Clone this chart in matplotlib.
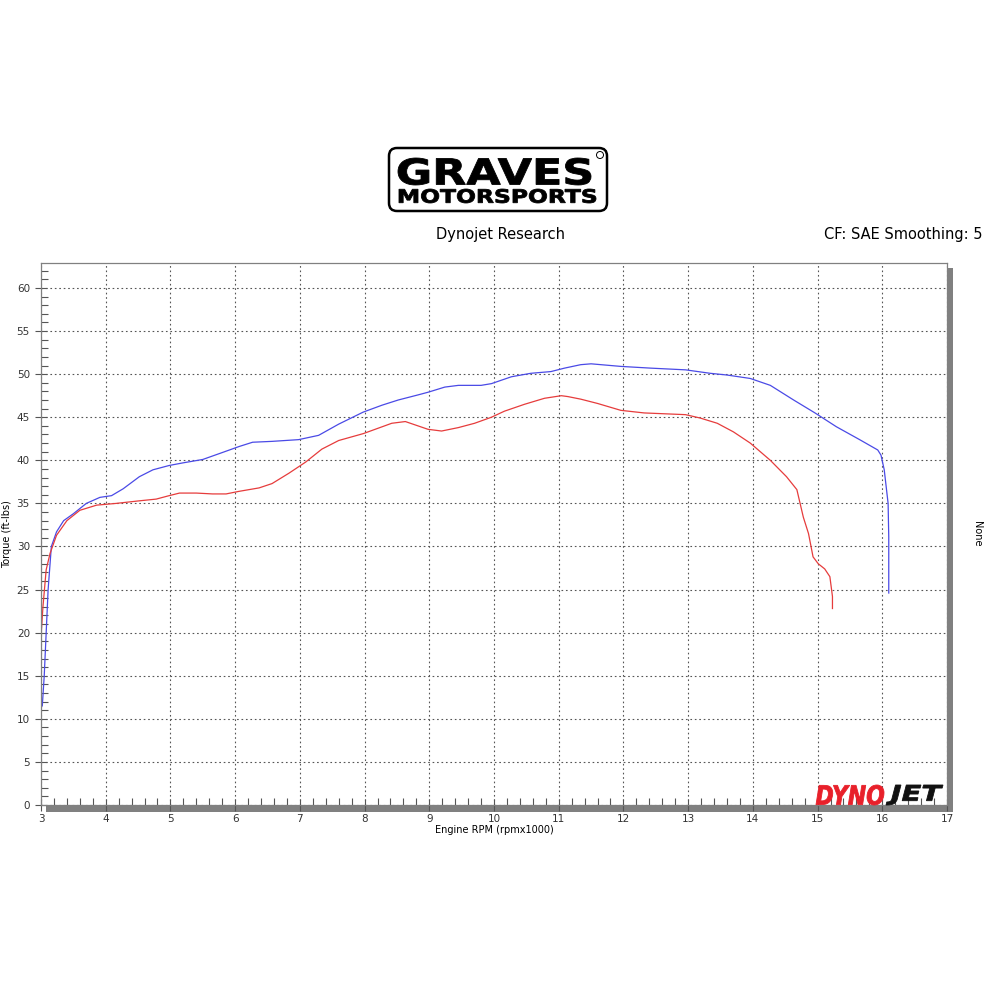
import matplotlib
matplotlib.use("Agg")
import matplotlib.pyplot as plt
from matplotlib.patches import FancyBboxPatch, Rectangle, PathPatch, Circle
from matplotlib.textpath import TextPath
from matplotlib.font_manager import FontProperties
from matplotlib.transforms import Affine2D
from matplotlib.ticker import MultipleLocator

# run 1 (blue) and run 2 (red), torque vs rpm x1000
blue_rpm = [3.02, 3.05, 3.08, 3.11, 3.16, 3.24, 3.35, 3.50, 3.70, 3.91,
            4.09, 4.27, 4.52, 4.73, 4.98, 5.19, 5.50, 5.80, 6.06, 6.27,
            6.57, 6.98, 7.29, 7.60, 7.98, 8.27, 8.52, 8.83, 8.98, 9.24,
            9.45, 9.80, 9.96, 10.27, 10.57, 10.88, 11.09, 11.34, 11.50, 11.96,
            12.42, 12.96, 13.34, 13.60, 13.96, 14.27, 14.63, 14.96, 15.29, 15.65,
            15.93, 15.98, 16.03, 16.09, 16.10, 16.10]
blue_tq = [11.5, 15, 20, 25, 30, 31.7, 33.0, 33.8, 35.0, 35.7,
           35.9, 36.7, 38.1, 38.9, 39.4, 39.7, 40.1, 40.9, 41.6, 42.1,
           42.2, 42.4, 42.9, 44.2, 45.6, 46.4, 47.0, 47.6, 47.9, 48.5,
           48.7, 48.7, 48.9, 49.7, 50.1, 50.3, 50.7, 51.1, 51.2, 50.9,
           50.7, 50.5, 50.1, 49.9, 49.5, 48.7, 47.0, 45.5, 43.9, 42.4,
           41.2, 40.6, 38.9, 35.0, 31.1, 24.6]

red_rpm = [3.00, 3.03, 3.08, 3.14, 3.24, 3.40, 3.60, 3.86, 4.16, 4.52,
           4.78, 4.98, 5.14, 5.40, 5.65, 5.86, 6.06, 6.37, 6.57, 6.83,
           7.09, 7.34, 7.60, 7.98, 8.42, 8.63, 8.98, 9.19, 9.45, 9.70,
           9.96, 10.16, 10.47, 10.78, 11.04, 11.14, 11.34, 11.60, 11.96, 12.32,
           12.96, 13.19, 13.45, 13.70, 13.96, 14.27, 14.52, 14.68, 14.78, 14.86,
           14.93, 15.01, 15.11, 15.19, 15.23, 15.23]
red_tq = [19.5, 23, 27.3, 29.2, 31.3, 33.0, 34.2, 34.8, 35.0, 35.3,
          35.5, 35.9, 36.2, 36.2, 36.1, 36.1, 36.4, 36.8, 37.3, 38.5,
          39.8, 41.3, 42.3, 43.1, 44.3, 44.5, 43.6, 43.4, 43.8, 44.3,
          45.0, 45.7, 46.5, 47.2, 47.5, 47.4, 47.1, 46.6, 45.8, 45.5,
          45.3, 44.9, 44.3, 43.3, 42.0, 40.0, 38.1, 36.6, 33.4, 31.5,
          28.8, 28.0, 27.4, 26.5, 24.2, 22.8]

x_ticks = list(range(3, 18))
y_ticks = list(range(0, 61, 5))

fig = plt.figure(figsize=(10, 10), dpi=100)


def px(x, y):
    return x / 1000.0, 1 - y / 1000.0


def box_text(s, x0, y0, x1, y1, color, weight="bold", style="normal"):
    # fit a text path into the pixel box (x0,y0)-(x1,y1)
    tp = TextPath((0, 0), s, size=1,
                  prop=FontProperties(family="DejaVu Sans", weight=weight, style=style))
    bb = tp.get_extents()
    fx0, fy1 = px(x0, y1)
    fx1, fy0 = px(x1, y0)
    t = Affine2D().translate(-bb.x0, -bb.y0).scale((fx1 - fx0) / bb.width,
                                                   (fy0 - fy1) / bb.height).translate(fx0, fy1)
    fig.add_artist(PathPatch(t.transform_path(tp), fc=color, ec=color, lw=0.6,
                             transform=fig.transFigure, zorder=10))


# Graves logo
bx0, by0 = px(389, 211)
bx1, by1 = px(607, 148)
fig.add_artist(FancyBboxPatch((bx0, by0), bx1 - bx0, by1 - by0,
                              boxstyle="round,pad=0,rounding_size=0.008",
                              fc="white", ec="black", lw=1.8, transform=fig.transFigure))
box_text("GRAVES", 398, 158, 591, 185, "black")
box_text("MOTORSPORTS", 399, 189, 596, 203, "black")
cx, cy = px(600, 155)
fig.add_artist(Circle((cx, cy), 0.0035, fc="none", ec="black", lw=0.7,
                      transform=fig.transFigure))

fig.text(0.5, 1 - 0.234, "Dynojet Research", ha="center", va="center", fontsize=10.5,
         family="DejaVu Sans")
fig.text(0.983, 1 - 0.234, "CF: SAE Smoothing: 5", ha="right", va="center", fontsize=10.5,
         family="DejaVu Sans")

ax = fig.add_axes([0.041, 0.195, 0.906, 0.542])
ax.plot(blue_rpm, blue_tq, color="#4a4ae6", lw=0.9)
ax.plot(red_rpm, red_tq, color="#e63c3c", lw=0.9)

ax.set_xlim(3, 17)
ax.set_ylim(0, 62.9)
ax.set_xticks(x_ticks)
ax.set_yticks(y_ticks)
ax.xaxis.set_minor_locator(MultipleLocator(0.2))
ax.yaxis.set_minor_locator(MultipleLocator(1))
ax.grid(True, which="major", color="#555555", linestyle=(0, (1.5, 2.5)), lw=0.8)
ax.tick_params(which="both", labelsize=7.5, colors="#333333", right=True, labelright=True)
ax.tick_params(which="major", direction="inout", length=9, width=0.8, color="#555555")
ax.tick_params(which="minor", direction="in", length=5, width=0.8, color="#555555")
ax.tick_params(axis="x", which="major", pad=2)
for s in ax.spines.values():
    s.set_color("#808080")
    s.set_linewidth(0.9)

ax.set_xlabel("Engine RPM (rpmx1000)", fontsize=7, labelpad=1)
ax.set_ylabel("Torque (ft-lbs)", fontsize=7)
ax.yaxis.set_label_coords(-0.032, 0.5)
ax2 = ax.twinx()
ax2.set_ylim(ax.get_ylim())
ax2.set_yticks([])
ax2.set_ylabel("None", fontsize=7, rotation=270)
ax2.yaxis.set_label_coords(1.039, 0.5)
for s in ax2.spines.values():
    s.set_visible(False)

# 3D-ish shadow bars under and to the right of the plot
ax.add_patch(Rectangle((0.005, -0.012), 1.0, 0.011, transform=ax.transAxes,
                       fc="#808080", ec="none", clip_on=False, zorder=0))
ax.add_patch(Rectangle((1.0005, -0.012), 0.006, 1.003, transform=ax.transAxes,
                       fc="#808080", ec="none", clip_on=False, zorder=0))

# Dynojet mark
box_text("DYNO", 816, 785, 884, 805, "#e8202a", style="italic")
box_text("JET", 886, 785, 943, 805, "#111111", style="italic")

fig.savefig("out.png", dpi=100, facecolor="white")
